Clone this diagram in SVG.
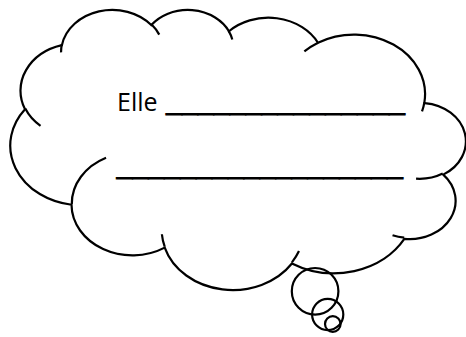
<svg xmlns="http://www.w3.org/2000/svg" width="466" height="337" viewBox="0 0 466 337">
  <style>
    .ln { fill: none; stroke: #000; stroke-width: 2.2; vector-effect: non-scaling-stroke; stroke-linecap: butt; }
    .body { fill: #fff; stroke: #000; stroke-width: 2.2; vector-effect: non-scaling-stroke; stroke-linejoin: miter; }
    .circ { fill: none; stroke: #000; stroke-width: 2.2; }
    .txt { font-family: "Open Sans", "Noto Sans", "Liberation Sans", sans-serif; font-size: 25px; fill: #000; }
    .us { stroke: #000; stroke-width: 0.9; }
  </style>
  <rect width="466" height="337" fill="#fff"/>
  <g id="cloud">
    <g transform="matrix(-0.0105324 0 0 0.0064815 465.5 9)">
      <path class="body" d="M 3900 14370 A 6753 9190 0 0 1 14006.2 5203.1 A 5333 7267 0 0 1 22458.4 3432.7 A 4365 5945 0 0 1 29835.9 2480.8 A 4857 6595 0 0 1 38320.8 5576.7 A 5333 7273 0 0 1 41821.2 15460.5 A 6775 9220 0 0 1 37406.9 30202.9 A 5785 7867 0 0 1 28558.4 36813 A 6752 9215 0 0 1 16483 39265.3 A 7720 10543 0 0 1 5807.2 35472.3 A 4360 5918 0 0 1 2113.5 25554.2 A 4345 5945 0 0 1 3863.8 14511 Z"/>
      <path class="ln" d="M 4693 26177 A 4345 5945 0 0 1 2159.4 25379.6"/>
      <path class="ln" d="M 6928 34899 A 4360 5918 0 0 1 5819.4 35280.5"/>
      <path class="ln" d="M 16478 39090 A 6752 9215 0 0 1 15810.1 37349"/>
      <path class="ln" d="M 28827 34751 A 6752 9215 0 0 1 28560.5 36659.5"/>
      <path class="ln" d="M 34129 22954 A 5785 7867 0 0 1 37380.4 30089.6"/>
      <path class="ln" d="M 41798 15354 A 5333 7273 0 0 1 40349.2 18031"/>
      <path class="ln" d="M 38324 5426 A 4857 6595 0 0 1 38400.4 6689.4"/>
      <path class="ln" d="M 29078 3952 A 4857 6595 0 0 1 29820.2 2339"/>
      <path class="ln" d="M 22141 4720 A 4365 5945 0 0 1 22499.9 3330.8"/>
      <path class="ln" d="M 14000 5192 A 6753 9190 0 0 1 15301.1 6542.6"/>
      <path class="ln" d="M 4127 15789 A 6753 9190 0 0 1 3900.4 14371.2"/>
    </g>
    <text class="txt" x="117" y="111">Elle<tspan class="us" x="166" textLength="239" lengthAdjust="spacingAndGlyphs">_______________</tspan></text>
    <text class="txt us" x="116.5" y="175" textLength="286.5" lengthAdjust="spacingAndGlyphs">__________________</text>
  </g>
  <g id="tail">
    <circle class="circ" cx="315.1" cy="291.3" r="23.3"/>
    <circle class="circ" cx="327.7" cy="314.5" r="15.6"/>
    <circle class="circ" cx="332.8" cy="324" r="7.8"/>
  </g>
  <g id="connectors"/>
</svg>
